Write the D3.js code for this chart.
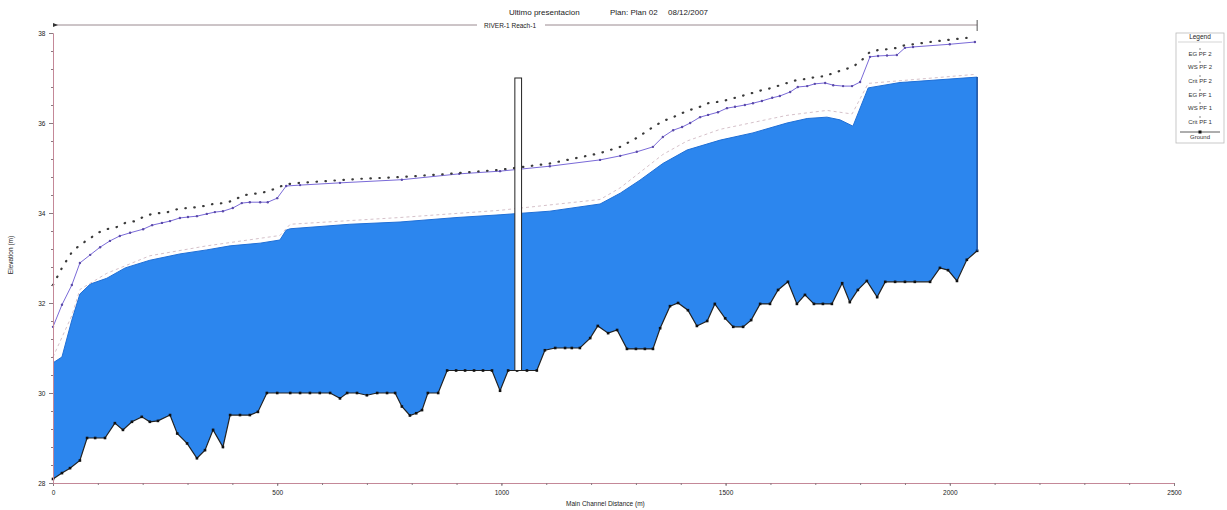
<!DOCTYPE html>
<html>
<head>
<meta charset="utf-8">
<script src="https://cdn.jsdelivr.net/npm/d3@7"></script>
<style>
  html, body { margin: 0; padding: 0; background: #fff; }
  svg { display: block; font-family: "Liberation Sans", Arial, sans-serif; }
</style>
</head>
<body>
<svg id="chart" width="1227" height="510"></svg>
<script>
// Longitudinal profile: RIVER-1 Reach-1, main channel distance (m) vs elevation (m)

// Ground (channel invert) at each cross section
const groundStation = [0, 20, 38, 60, 76, 94, 116, 138, 156, 176, 198, 216, 234, 261, 277, 299, 321, 339, 357, 379,
  395, 417, 439, 457, 477, 500, 529, 551, 573, 595, 618, 640, 656, 678, 700, 723, 745, 763, 778, 796,
  810, 823, 836, 859, 879, 899, 919, 939, 959, 979, 997, 1015, 1035, 1057, 1079, 1097, 1120, 1142, 1157, 1175,
  1198, 1215, 1238, 1258, 1280, 1300, 1320, 1338, 1354, 1376, 1394, 1416, 1436, 1459, 1476, 1499, 1517, 1539, 1557, 1577,
  1599, 1617, 1639, 1659, 1677, 1697, 1717, 1737, 1760, 1777, 1795, 1815, 1838, 1856, 1878, 1900, 1922, 1956, 1978, 1996,
  2016, 2038, 2061];
const groundElev = [28.09, 28.22, 28.33, 28.5, 29.0, 29.0, 29.0, 29.33, 29.18, 29.36, 29.47, 29.36, 29.38, 29.51, 29.1, 28.88, 28.55, 28.73, 29.18, 28.8,
  29.51, 29.51, 29.51, 29.58, 30.0, 30.0, 30.0, 30.0, 30.0, 30.0, 30.0, 29.88, 30.0, 30.0, 29.95, 30.0, 30.0, 30.0, 29.7, 29.5,
  29.55, 29.62, 30.0, 30.0, 30.5, 30.5, 30.5, 30.5, 30.5, 30.5, 30.05, 30.5, 30.5, 30.5, 30.5, 30.95, 31.0, 31.0, 31.0, 31.0,
  31.22, 31.49, 31.33, 31.4, 30.98, 30.98, 30.98, 30.98, 31.44, 31.93, 32.0, 31.84, 31.49, 31.6, 31.98, 31.66, 31.47, 31.47, 31.62, 31.98,
  31.98, 32.29, 32.47, 31.98, 32.18, 31.98, 31.98, 31.98, 32.44, 32.02, 32.29, 32.49, 32.13, 32.47, 32.47, 32.47, 32.47, 32.47, 32.78, 32.73,
  32.49, 32.96, 33.16];

// Water surface, profile PF 1 (filled water body)
const wsPF1Station = [0, 20, 42, 60, 83, 120, 161, 216, 283, 343, 395, 462, 506, 520, 529, 662, 774, 901, 997, 1108,
  1220, 1265, 1309, 1360, 1414, 1488, 1561, 1637, 1682, 1726, 1755, 1784, 1818, 1889, 1905, 2061];
const wsPF1Elev = [30.67, 30.8, 31.62, 32.2, 32.42, 32.55, 32.78, 32.95, 33.09, 33.18, 33.27, 33.33, 33.4, 33.62, 33.65, 33.75, 33.8, 33.9, 33.96, 34.04,
  34.2, 34.44, 34.73, 35.1, 35.4, 35.62, 35.78, 36.0, 36.1, 36.13, 36.07, 35.93, 36.78, 36.9, 36.91, 37.02];

// Energy grade, profile PF 1
const egPF1Station = [0, 42, 60, 120, 216, 343, 506, 529, 774, 997, 1220, 1265, 1360, 1414, 1488, 1637, 1726, 1782, 1818, 2056];
const egPF1Elev = [30.8, 31.72, 32.3, 32.66, 33.05, 33.27, 33.5, 33.75, 33.9, 34.06, 34.3, 34.56, 35.3, 35.6, 35.86, 36.17, 36.28, 36.2, 36.88, 37.08];

// Energy grade, profile PF 2
const egPF2Station = [0, 20, 42, 60, 83, 100, 120, 143, 161, 183, 201, 221, 239, 256, 279, 299, 321, 339, 357, 379,
  401, 421, 439, 462, 482, 500, 520, 551, 595, 640, 685, 733, 778, 823, 868, 906, 997, 1108, 1220, 1265,
  1302, 1338, 1360, 1383, 1403, 1421, 1443, 1461, 1483, 1503, 1521, 1543, 1561, 1581, 1604, 1621, 1644, 1661, 1682, 1699,
  1722, 1740, 1762, 1782, 1800, 1822, 1840, 1860, 1882, 1900, 1918, 1956, 2000, 2056];
const egPF2Elev = [32.4, 32.78, 33.13, 33.29, 33.44, 33.56, 33.64, 33.69, 33.78, 33.82, 33.91, 33.98, 34.0, 34.02, 34.09, 34.11, 34.13, 34.16, 34.2, 34.22,
  34.27, 34.38, 34.42, 34.44, 34.49, 34.56, 34.64, 34.67, 34.7, 34.73, 34.76, 34.78, 34.8, 34.83, 34.86, 34.89, 34.96, 35.1, 35.33, 35.47,
  35.67, 35.91, 36.04, 36.13, 36.22, 36.29, 36.36, 36.44, 36.47, 36.51, 36.56, 36.62, 36.67, 36.73, 36.78, 36.84, 36.91, 36.96, 36.98, 37.02,
  37.04, 37.11, 37.18, 37.24, 37.36, 37.58, 37.62, 37.64, 37.67, 37.73, 37.75, 37.8, 37.85, 37.91];

// Water surface, profile PF 2
const wsPF2Station = [0, 20, 42, 60, 83, 105, 127, 149, 172, 201, 221, 243, 261, 283, 301, 321, 343, 361, 379, 401,
  421, 439, 462, 479, 500, 520, 551, 640, 778, 906, 997, 1108, 1220, 1265, 1302, 1338, 1360, 1383, 1403, 1421,
  1443, 1461, 1483, 1503, 1521, 1543, 1561, 1581, 1604, 1621, 1644, 1661, 1682, 1699, 1722, 1740, 1762, 1782, 1800, 1822,
  1840, 1860, 1882, 1900, 1918, 2000, 2056];
const wsPF2Elev = [31.47, 31.96, 32.4, 32.89, 33.07, 33.24, 33.38, 33.49, 33.56, 33.64, 33.73, 33.78, 33.82, 33.89, 33.91, 33.93, 33.98, 34.02, 34.04, 34.11,
  34.22, 34.24, 34.24, 34.24, 34.33, 34.6, 34.62, 34.67, 34.74, 34.87, 34.93, 35.04, 35.18, 35.27, 35.36, 35.47, 35.69, 35.84, 35.91, 36.0,
  36.13, 36.18, 36.24, 36.33, 36.36, 36.4, 36.44, 36.49, 36.56, 36.6, 36.69, 36.8, 36.82, 36.87, 36.89, 36.84, 36.82, 36.82, 36.91, 37.47,
  37.49, 37.5, 37.51, 37.67, 37.69, 37.75, 37.8];

// Inline structure: stations of its faces and its invert / top elevations
const structureStation = [1030, 1045];
const structureElev = [30.5, 37.0];

const xTicks = [0, 500, 1000, 1500, 2000, 2500];
const yTicks = [28, 30, 32, 34, 36, 38];
const legendLabels = ["EG  PF 2", "WS  PF 2", "Crit  PF 2", "EG  PF 1", "WS  PF 1", "Crit  PF 1", "Ground"];
const reachEnd = 2061;

const svg = d3.select("#chart");
const x = d3.scaleLinear().domain([0, 2500]).range([53, 1174]);
const y = d3.scaleLinear().domain([28, 38]).range([483, 33]);

const zip = (s, v) => s.map((d, i) => [d, v[i]]);
const ground = zip(groundStation, groundElev);
const wsPF1 = zip(wsPF1Station, wsPF1Elev);
const egPF1 = zip(egPF1Station, egPF1Elev);
const egPF2 = zip(egPF2Station, egPF2Elev);
const wsPF2 = zip(wsPF2Station, wsPF2Elev);

const line = d3.line().x(d => x(d[0])).y(d => y(d[1]));

// Titles
svg.append("text").attr("x", 509).attr("y", 15).attr("font-size", 8).attr("fill", "#222")
  .text("Ultimo presentacion");
svg.append("text").attr("x", 610).attr("y", 15).attr("font-size", 8).attr("fill", "#222")
  .text("Plan: Plan 02");
svg.append("text").attr("x", 668).attr("y", 15).attr("font-size", 8).attr("fill", "#222")
  .text("08/12/2007");

// Reach banner line
const reachY = 25;
svg.append("line").attr("x1", x(0)).attr("x2", 477).attr("y1", reachY).attr("y2", reachY)
  .attr("stroke", "#9a8a90").attr("stroke-width", 1);
svg.append("line").attr("x1", 545).attr("x2", x(reachEnd)).attr("y1", reachY).attr("y2", reachY)
  .attr("stroke", "#9a8a90").attr("stroke-width", 1);
svg.append("line").attr("x1", x(reachEnd)).attr("x2", x(reachEnd)).attr("y1", 20).attr("y2", 31)
  .attr("stroke", "#555").attr("stroke-width", 1);
svg.append("path").attr("d", `M${x(0)},${reachY - 2}L${x(0) + 5},${reachY}L${x(0)},${reachY + 2}Z`).attr("fill", "#333");
svg.append("text").attr("x", 484).attr("y", 28).attr("font-size", 6.5).attr("fill", "#222")
  .text("RIVER-1 Reach-1");

// Water body: PF 1 water surface down to the ground
const waterPoly = wsPF1.concat(ground.slice().reverse());
svg.append("path").attr("d", line(waterPoly) + "Z")
  .attr("fill", "#2c86ee").attr("stroke", "none");
svg.append("path").attr("d", line(wsPF1)).attr("fill", "none")
  .attr("stroke", "#1f6fd6").attr("stroke-width", 1);

// Energy grade PF 1
svg.append("path").attr("d", line(egPF1)).attr("fill", "none")
  .attr("stroke", "#d6c2ca").attr("stroke-width", 1).attr("stroke-dasharray", "3 3");

// Water surface PF 2
svg.append("path").attr("d", line(wsPF2)).attr("fill", "none")
  .attr("stroke", "#7a6ad8").attr("stroke-width", 1);
svg.append("g").selectAll("circle").data(wsPF2).join("circle")
  .attr("cx", d => x(d[0])).attr("cy", d => y(d[1])).attr("r", 1.2).attr("fill", "#5a4aa8");

// Energy grade PF 2 (dotted)
svg.append("path").attr("d", line(egPF2)).attr("fill", "none")
  .attr("stroke", "#3a3a3a").attr("stroke-width", 2.2)
  .attr("stroke-linecap", "round").attr("stroke-dasharray", "0.5 8.5");

// Ground line with cross-section markers
svg.append("path").attr("d", line(ground)).attr("fill", "none")
  .attr("stroke", "#222").attr("stroke-width", 1.2);
svg.append("g").selectAll("rect").data(ground).join("rect")
  .attr("x", d => x(d[0]) - 1.3).attr("y", d => y(d[1]) - 1.3)
  .attr("width", 2.6).attr("height", 2.6).attr("fill", "#111");

// Inline structure
svg.append("rect")
  .attr("x", x(structureStation[0])).attr("y", y(structureElev[1]))
  .attr("width", x(structureStation[1]) - x(structureStation[0]))
  .attr("height", y(structureElev[0]) - y(structureElev[1]))
  .attr("fill", "#fff").attr("stroke", "#222").attr("stroke-width", 1);

// Right-hand end of the water body
svg.append("line")
  .attr("x1", x(reachEnd)).attr("x2", x(reachEnd))
  .attr("y1", y(wsPF1Elev[wsPF1Elev.length - 1])).attr("y2", y(groundElev[groundElev.length - 1]))
  .attr("stroke", "#1a4fa0").attr("stroke-width", 1.5);

// Axes
const axisColor = "#c48898";
const gx = svg.append("g").attr("transform", `translate(0,${y(28)})`)
  .call(d3.axisBottom(x).tickValues(xTicks).tickSize(3).tickFormat(d3.format("d")));
svg.append("g").attr("transform", `translate(0,${y(28)})`)
  .call(d3.axisBottom(x).tickValues(d3.range(0, 2501, 100)).tickSize(2).tickFormat(""))
  .call(g => g.select(".domain").remove());
const gy = svg.append("g").attr("transform", `translate(${x(0)},0)`)
  .call(d3.axisLeft(y).tickValues(yTicks).tickSize(4).tickFormat(d3.format("d")));
svg.append("g").attr("transform", `translate(${x(0)},0)`)
  .call(d3.axisLeft(y).tickValues(d3.range(28, 38.01, 0.4)).tickSize(2).tickFormat(""))
  .call(g => g.select(".domain").remove());

svg.selectAll(".domain").attr("stroke", axisColor);
svg.selectAll(".tick line").attr("stroke", "#8a7a80");
gx.selectAll("text").attr("font-size", 6.5).attr("fill", "#222").attr("dy", "0.9em");
gy.selectAll("text").attr("font-size", 6.5).attr("fill", "#222").attr("dx", "-0.1em");

// Axis titles
svg.append("text").attr("x", 566).attr("y", 506).attr("font-size", 6.5).attr("fill", "#222")
  .text("Main Channel Distance (m)");
svg.append("text").attr("transform", "translate(13,255) rotate(-90)")
  .attr("text-anchor", "middle").attr("font-size", 6.5).attr("fill", "#222")
  .text("Elevation (m)");

// Legend
const lg = svg.append("g");
lg.append("rect").attr("x", 1176).attr("y", 33).attr("width", 48).attr("height", 110)
  .attr("fill", "#fff").attr("stroke", "#bbb").attr("stroke-width", 0.8);
lg.append("text").attr("x", 1200).attr("y", 39).attr("text-anchor", "middle")
  .attr("font-size", 6.5).attr("fill", "#222").text("Legend");
lg.append("line").attr("x1", 1178).attr("x2", 1222).attr("y1", 42).attr("y2", 42)
  .attr("stroke", "#bbb").attr("stroke-width", 0.6);
const legendY = [56, 69, 83, 97, 110, 124, 139];
legendLabels.forEach((lab, i) => {
  const ty = legendY[i];
  lg.append("text").attr("x", 1200).attr("y", ty).attr("text-anchor", "middle")
    .attr("font-size", 6).attr("fill", "#333").text(lab);
  if (lab === "Ground") {
    lg.append("line").attr("x1", 1180).attr("x2", 1220).attr("y1", ty - 7).attr("y2", ty - 7)
      .attr("stroke", "#333").attr("stroke-width", 0.8);
    lg.append("rect").attr("x", 1198.5).attr("y", ty - 8.5).attr("width", 3).attr("height", 3).attr("fill", "#111");
  } else {
    lg.append("circle").attr("cx", 1200).attr("cy", ty - 7).attr("r", 0.8).attr("fill", "#777");
  }
});
</script>
</body>
</html>
